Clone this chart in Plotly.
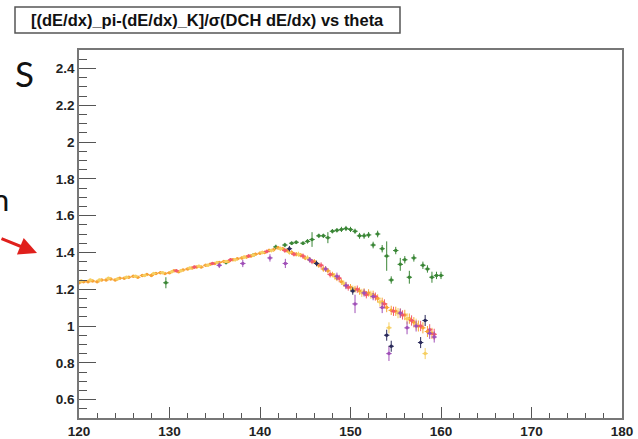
import plotly.graph_objects as go

# ---- profile data: dE/dx pi-K separation vs polar angle theta (deg) ----
theta_orange = [120.0, 120.5, 121.0, 121.5, 122.0, 122.5, 123.0, 123.5, 124.0, 124.5,
                125.0, 125.5, 126.0, 126.5, 127.0, 127.5, 128.0, 128.5, 129.0, 129.5,
                130.0, 130.5, 131.0, 131.5, 132.0, 132.5, 133.0, 133.5, 134.0, 134.5,
                135.0, 135.5, 136.0, 136.5, 137.0, 137.5, 138.0, 138.5, 139.0, 139.5,
                140.0, 140.5, 141.0, 141.5, 142.0, 142.5, 143.0, 143.5, 144.0, 144.5,
                145.0, 145.5, 146.0, 146.5, 147.0, 147.5, 148.0, 148.5, 149.0, 149.5,
                150.0, 150.5, 151.0, 151.5, 152.0, 152.5, 153.0, 153.5, 154.0, 154.5,
                155.0, 155.5, 156.0, 156.5, 157.0, 157.5, 158.0, 158.5, 159.0]
sep_orange = [1.235, 1.24, 1.24, 1.245, 1.24, 1.25, 1.25, 1.255, 1.25, 1.26,
              1.26, 1.265, 1.27, 1.265, 1.275, 1.28, 1.275, 1.285, 1.29, 1.285,
              1.29, 1.30, 1.295, 1.305, 1.31, 1.315, 1.32, 1.32, 1.33, 1.335,
              1.34, 1.345, 1.35, 1.35, 1.36, 1.365, 1.37, 1.375, 1.38, 1.39,
              1.395, 1.40, 1.41, 1.415, 1.425, 1.42, 1.41, 1.40, 1.39, 1.385,
              1.37, 1.36, 1.35, 1.33, 1.31, 1.30, 1.28, 1.26, 1.24, 1.22,
              1.21, 1.20, 1.19, 1.185, 1.18, 1.17, 1.15, 1.13, 1.10, 1.085,
              1.08, 1.07, 1.06, 1.04, 1.02, 1.00, 0.99, 0.97, 0.96]
err_orange = [0.008, 0.006, 0.006, 0.006, 0.006, 0.006, 0.006, 0.006, 0.006, 0.006,
              0.006, 0.006, 0.006, 0.006, 0.006, 0.006, 0.006, 0.006, 0.006, 0.006,
              0.006, 0.006, 0.006, 0.006, 0.006, 0.006, 0.006, 0.006, 0.006, 0.006,
              0.007, 0.007, 0.007, 0.007, 0.007, 0.007, 0.008, 0.008, 0.008, 0.008,
              0.009, 0.009, 0.010, 0.010, 0.010, 0.010, 0.010, 0.012, 0.012, 0.012,
              0.012, 0.014, 0.014, 0.014, 0.015, 0.015, 0.015, 0.016, 0.016, 0.018,
              0.018, 0.018, 0.020, 0.020, 0.020, 0.022, 0.022, 0.024, 0.025, 0.025,
              0.025, 0.025, 0.028, 0.028, 0.028, 0.030, 0.030, 0.030, 0.030]

theta_yellow = [120.25, 121.25, 122.25, 123.25, 124.25, 125.25, 126.25, 127.25, 128.25, 129.25,
                130.25, 131.25, 132.25, 133.25, 134.25, 135.25, 136.25, 137.25, 138.25, 139.25,
                140.25, 141.25, 142.25, 143.25, 144.25, 145.25, 146.25, 147.25, 148.25, 149.25,
                150.25, 151.25, 152.25, 153.25, 154.25, 155.25, 156.25, 157.25, 158.25]
sep_yellow = [1.245, 1.25, 1.25, 1.26, 1.255, 1.265, 1.27, 1.275, 1.285, 1.29,
              1.295, 1.30, 1.315, 1.325, 1.33, 1.345, 1.35, 1.36, 1.375, 1.385,
              1.40, 1.41, 1.42, 1.40, 1.39, 1.37, 1.34, 1.31, 1.27, 1.23,
              1.20, 1.18, 1.17, 1.13, 0.99, 1.07, 1.04, 1.01, 0.85]
err_yellow = [0.007, 0.007, 0.007, 0.007, 0.007, 0.007, 0.007, 0.007, 0.007, 0.007,
              0.007, 0.007, 0.007, 0.008, 0.008, 0.008, 0.008, 0.009, 0.009, 0.010,
              0.010, 0.010, 0.012, 0.012, 0.014, 0.014, 0.016, 0.016, 0.018, 0.018,
              0.020, 0.022, 0.022, 0.025, 0.030, 0.028, 0.030, 0.030, 0.030]

theta_red = [130.75, 132.75, 134.75, 136.75, 138.75, 140.75, 142.75, 143.75, 144.75, 145.75,
             146.75, 147.75, 148.75, 149.75, 150.75, 151.75, 152.75, 153.75, 154.75, 155.75,
             156.75, 157.75, 158.75, 159.25]
sep_red = [1.30, 1.32, 1.34, 1.36, 1.38, 1.405, 1.41, 1.39, 1.38, 1.35,
           1.33, 1.28, 1.26, 1.21, 1.20, 1.17, 1.16, 1.12, 1.08, 1.06,
           1.03, 1.00, 0.98, 0.955]
err_red = [0.008, 0.008, 0.008, 0.009, 0.010, 0.010, 0.012, 0.012, 0.014, 0.014,
           0.016, 0.016, 0.018, 0.018, 0.020, 0.020, 0.022, 0.025, 0.025, 0.025,
           0.028, 0.028, 0.030, 0.030]

theta_purple = [135.5, 138.1, 141.1, 142.8, 145.5, 147.25, 148.5, 149.5, 150.5, 151.5,
                152.5, 153.5, 154.25, 155.5, 156.25, 157.25, 158.75, 159.25]
sep_purple = [1.33, 1.34, 1.37, 1.34, 1.36, 1.31, 1.27, 1.22, 1.12, 1.18,
              1.16, 1.10, 0.85, 1.07, 0.99, 1.00, 0.96, 0.94]
err_purple = [0.015, 0.020, 0.020, 0.025, 0.015, 0.015, 0.020, 0.020, 0.050, 0.020,
              0.020, 0.030, 0.040, 0.025, 0.035, 0.030, 0.030, 0.030]

theta_navy = [143.25, 146.25, 150.25, 154.0, 154.5, 157.75, 158.25]
sep_navy = [1.42, 1.34, 1.19, 0.95, 0.89, 0.91, 1.03]
err_navy = [0.015, 0.015, 0.020, 0.030, 0.030, 0.030, 0.030]

theta_green = [129.6, 136.25, 139.25, 141.75, 142.75, 143.5, 144.0, 144.75, 145.25, 145.75,
               146.5, 147.0, 147.5, 148.0, 148.5, 149.0, 149.5, 150.0, 150.5, 151.0,
               151.5, 152.0, 152.5, 153.0, 153.5, 154.0, 154.5, 155.0, 155.5, 156.0,
               156.5, 157.0, 158.0, 158.5, 159.0, 159.5, 160.0]
sep_green = [1.235, 1.345, 1.385, 1.43, 1.44, 1.45, 1.455, 1.45, 1.46, 1.47,
             1.49, 1.49, 1.48, 1.515, 1.52, 1.525, 1.53, 1.525, 1.515, 1.49,
             1.49, 1.495, 1.44, 1.50, 1.42, 1.38, 1.25, 1.41, 1.335, 1.36,
             1.265, 1.37, 1.33, 1.31, 1.265, 1.275, 1.275]
err_green = [0.030, 0.010, 0.010, 0.012, 0.012, 0.010, 0.010, 0.010, 0.012, 0.040,
             0.012, 0.012, 0.030, 0.012, 0.012, 0.014, 0.014, 0.014, 0.014, 0.016,
             0.016, 0.016, 0.018, 0.018, 0.020, 0.080, 0.020, 0.020, 0.035, 0.020,
             0.035, 0.020, 0.020, 0.020, 0.030, 0.020, 0.020]

x_ticks = [120, 130, 140, 150, 160, 170, 180]
y_ticks = [0.6, 0.8, 1.0, 1.2, 1.4, 1.6, 1.8, 2.0, 2.2, 2.4]
y_tick_text = ["0.6", "0.8", "1", "1.2", "1.4", "1.6", "1.8", "2", "2.2", "2.4"]

title_text = "[(dE/dx)_pi-(dE/dx)_K]/\u03c3(DCH dE/dx) vs theta"

series = [
    (theta_green, sep_green, err_green, "#3a8636"),
    (theta_orange, sep_orange, err_orange, "#f7a335"),
    (theta_yellow, sep_yellow, err_yellow, "#f6cf62"),
    (theta_red, sep_red, err_red, "#f25a6c"),
    (theta_purple, sep_purple, err_purple, "#a050b8"),
    (theta_navy, sep_navy, err_navy, "#2a2a5a"),
]

fig = go.Figure()
for th, sep, err, col in series:
    fig.add_trace(go.Scatter(
        x=th, y=sep, mode="markers",
        marker=dict(color=col, size=3.5, symbol="circle"),
        error_x=dict(type="constant", value=0.3, thickness=1, width=0, color=col),
        error_y=dict(type="data", array=err, thickness=1, width=0, color=col),
        showlegend=False,
    ))

tick_font = dict(family="Liberation Sans, Arial", size=13.5, color="#222", weight="bold")

fig.update_layout(
    width=638, height=439,
    margin=dict(l=79, r=16, t=50, b=21),
    paper_bgcolor="white", plot_bgcolor="white",
    xaxis=dict(
        range=[120, 180], tickvals=x_ticks, ticks="inside", ticklen=11,
        tickcolor="#555", tickwidth=1, showgrid=False, zeroline=False,
        showline=True, linecolor="#777", linewidth=1.5, mirror=True,
        tickfont=tick_font, automargin=False,
        minor=dict(ticks="inside", ticklen=5, dtick=2, tickcolor="#555", showgrid=False),
    ),
    yaxis=dict(
        range=[0.5, 2.5], tickvals=y_ticks, ticktext=y_tick_text, ticks="inside",
        ticklen=17, tickcolor="#555", tickwidth=1, showgrid=False, zeroline=False,
        showline=True, linecolor="#777", linewidth=1.5, mirror=True,
        tickfont=tick_font, automargin=False,
        minor=dict(ticks="inside", ticklen=8, dtick=0.05, tickcolor="#555", showgrid=False),
    ),
)

W, H = 543.0, 368.0  # plot area in pixels


def px(x):
    return (x - 79) / W


def py(y):
    return (418 - y) / H


# title box
fig.add_shape(type="rect", xref="paper", yref="paper",
              x0=px(15), x1=px(400), y0=py(33), y1=py(7),
              line=dict(color="#555", width=1.5), fillcolor="white")
fig.add_annotation(xref="paper", yref="paper", x=px(207), y=py(20),
                   xanchor="center", yanchor="middle",
                   text=title_text, showarrow=False,
                   font=dict(family="Liberation Sans, Arial", size=16.5, color="#111", weight="bold"))

# slide text fragments and arrow on the left
fig.add_annotation(xref="paper", yref="paper", x=px(24), y=py(73), text="S",
                   xanchor="center", yanchor="middle",
                   showarrow=False, font=dict(family="Lato", size=35, color="#111"))
fig.add_annotation(xref="paper", yref="paper", x=px(11), y=py(199), xanchor="right",
                   yanchor="middle",
                   text="n", showarrow=False, font=dict(family="Lato", size=31, color="#111"))
fig.add_annotation(xref="paper", yref="paper", x=px(37), y=py(253),
                   ax=-39, ay=-15, axref="pixel", ayref="pixel",
                   text="", showarrow=True, arrowhead=2, arrowsize=1.2,
                   arrowwidth=3, arrowcolor="#e0201c")

fig.write_html("out.html")
